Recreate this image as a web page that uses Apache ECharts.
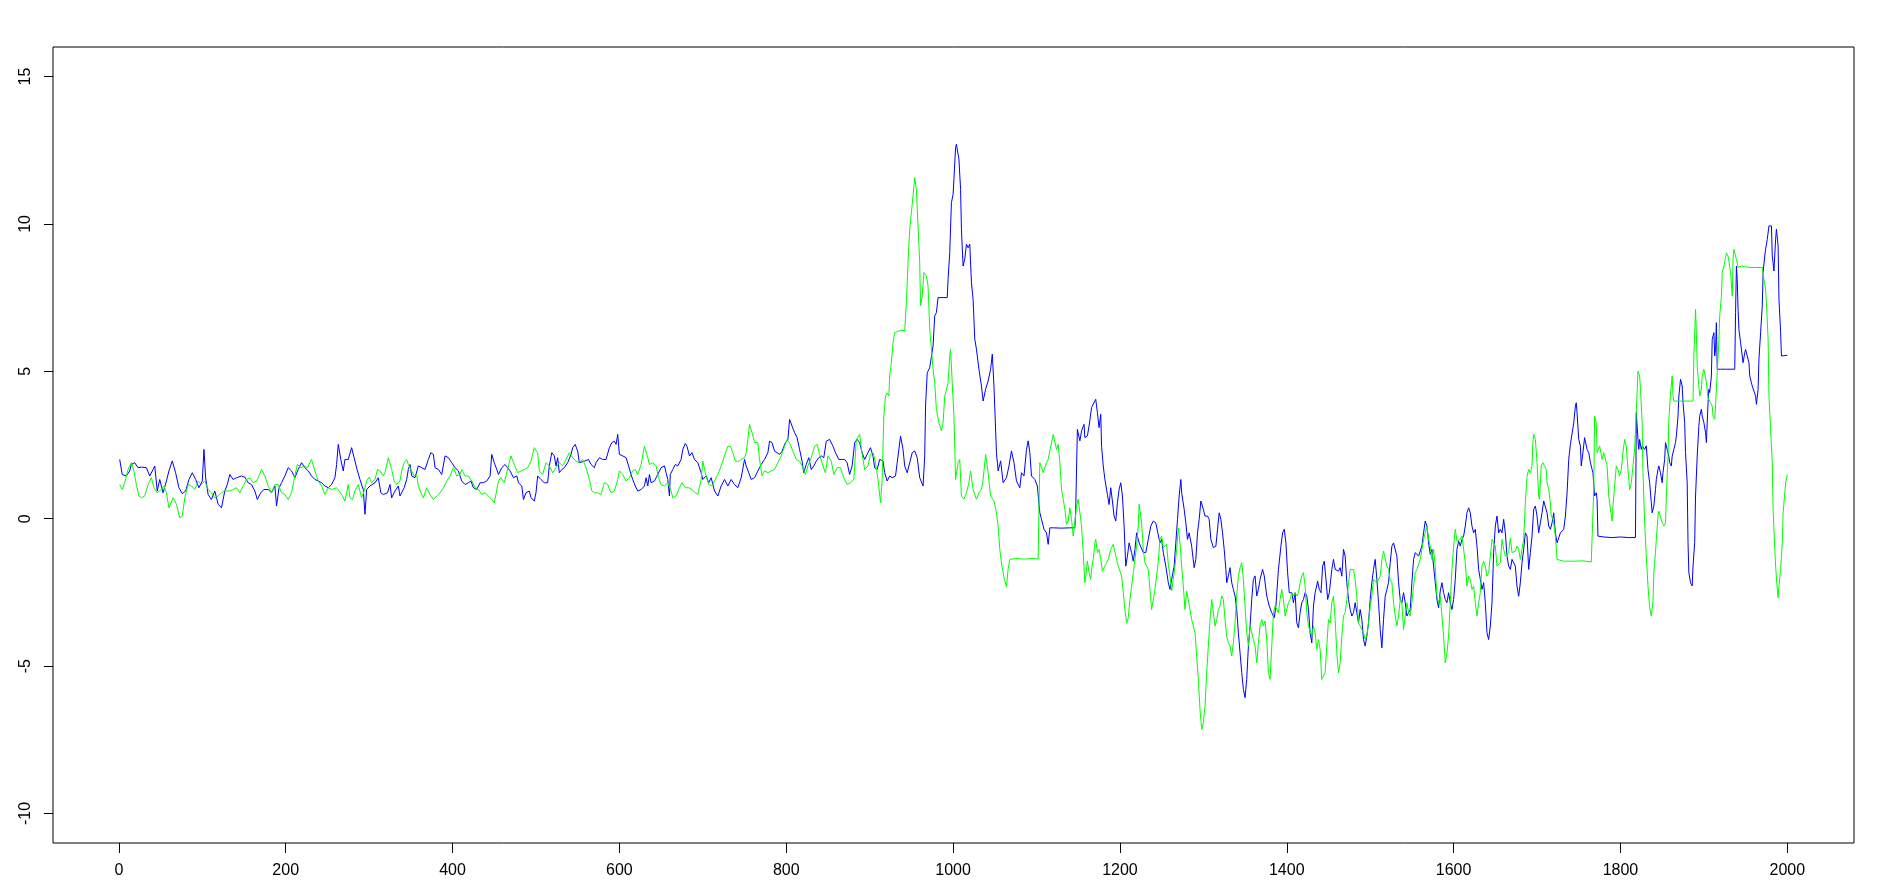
<!DOCTYPE html>
<html>
<head>
<meta charset="utf-8">
<script src="https://cdn.jsdelivr.net/npm/echarts@6/dist/echarts.min.js"></script>
<style>html,body{margin:0;padding:0;background:#fff}#c{width:1880px;height:889px}</style>
</head>
<body>
<div id="c"></div>
<script>
const xTicks = [0, 200, 400, 600, 800, 1000, 1200, 1400, 1600, 1800, 2000];
const yTicks = [-10, -5, 0, 5, 10, 15];
const xRange = [-78.96, 2079.96];
const yRange = [-11, 16];

const blueData = [[1,2.01],[4,1.50],[9,1.45],[13,1.62],[15,1.84],[19,1.90],[23,1.73],[27,1.75],[33,1.73],[37,1.45],[41,1.67],[43,1.79],[46,0.94],[49,1.33],[53,0.88],[57,1.28],[60,1.62],[64,1.96],[68,1.56],[72,1.05],[76,0.85],[80,0.94],[84,1.33],[88,1.56],[92,1.33],[96,1.05],[100,1.28],[102,2.35],[104,1.39],[107,0.82],[111,0.65],[115,0.94],[119,0.49],[123,0.37],[127,0.94],[130,1.16],[133,1.50],[137,1.33],[141,1.39],[147,1.45],[151,1.41],[155,1.22],[159,1.16],[163,0.94],[166,0.65],[170,0.88],[174,0.99],[179,0.99],[183,0.88],[187,1.11],[189,0.43],[192,1.05],[195,1.22],[199,1.45],[203,1.73],[207,1.62],[211,1.39],[215,1.67],[219,1.90],[223,1.73],[227,1.62],[231,1.45],[235,1.33],[239,1.28],[243,1.22],[247,1.11],[251,1.05],[255,1.16],[259,1.39],[261,1.84],[263,2.52],[266,2.01],[269,1.62],[271,2.01],[275,2.01],[279,2.41],[282,2.07],[286,1.62],[289,1.33],[293,0.99],[295,0.15],[297,0.99],[301,1.11],
[307,1.22],[311,1.39],[314,0.88],[317,0.82],[319,0.77],[322,0.88],[325,1.16],[327,0.71],[329,0.65],[331,0.94],[335,1.11],[337,0.77],[339,0.82],[342,1.05],[345,1.33],[347,1.67],[349,1.84],[351,1.45],[355,1.39],[359,1.79],[363,1.73],[367,1.67],[371,2.01],[374,2.24],[377,2.18],[379,1.73],[383,1.67],[387,1.50],[391,2.13],[395,2.07],[399,1.90],[403,1.73],[407,1.62],[411,1.28],[415,1.16],[419,1.22],[422,1.28],[425,1.05],[429,0.99],[433,1.22],[437,1.22],[441,1.28],[445,1.45],[447,2.18],[450,1.90],[453,1.67],[455,1.50],[459,1.73],[463,1.84],[466,1.73],[469,1.62],[473,1.39],[477,1.45],[479,1.22],[483,1.11],[485,0.65],[488,0.88],[492,0.94],[494,0.71],[498,0.60],[500,0.88],[502,1.45],[506,1.33],[510,1.22],[514,1.22],[516,1.79],[519,2.24],[522,2.13],[524,1.79],[526,2.07],[528,1.56],[531,1.67],[534,1.73],[538,1.90],[542,2.18],[544,2.41],[547,2.52],[550,2.29],[552,1.90],[554,1.84],[558,1.95],[560,1.95],[563,2.01],[566,1.84],[570,1.73],[572,1.90],[576,2.07],[580,2.01],[584,2.01],[588,2.41],[591,2.58],[594,2.63],[596,2.52],[598,2.86],[600,2.18],
[604,2.13],[608,2.07],[611,1.79],[614,1.50],[616,1.33],[619,1.11],[622,0.94],[626,0.99],[630,1.11],[632,1.39],[634,1.11],[636,1.50],[638,1.22],[642,1.28],[646,1.50],[650,1.73],[654,1.79],[656,1.56],[658,1.33],[660,0.77],[661,1.50],[664,1.67],[667,1.84],[670,1.79],[674,2.01],[676,2.35],[679,2.55],[681,2.46],[684,2.13],[687,2.24],[690,2.01],[694,1.90],[698,1.56],[700,1.33],[704,1.45],[707,1.22],[710,1.39],[714,0.94],[718,0.77],[722,1.11],[726,1.33],[730,1.11],[734,1.33],[738,1.16],[742,1.05],[746,1.39],[750,2.01],[752,1.79],[755,1.56],[758,1.33],[762,1.39],[766,1.62],[770,1.84],[772,1.79],[774,2.01],[778,2.24],[780,2.63],[783,2.58],[786,2.29],[789,2.24],[792,2.18],[795,2.29],[799,2.58],[802,2.69],[804,3.37],[807,3.14],[810,2.92],[813,2.75],[816,2.35],[819,1.95],[821,1.56],[824,1.84],[827,2.07],[830,1.67],[833,1.79],[836,1.95],[839,2.07],[842,2.13],[845,2.07],[848,2.63],[852,2.69],[856,2.46],[859,2.24],[863,2.01],[866,2.01],[870,2.01],[873,1.90],[876,1.50],[879,1.79],[882,2.58],[885,2.69],[888,2.58],[891,2.24],[894,2.01],
[898,2.24],[901,2.41],[904,2.13],[906,1.73],[909,1.67],[912,2.01],[916,1.96],[918,1.56],[921,1.28],[924,1.45],[927,1.39],[931,1.45],[933,1.90],[937,2.80],[940,2.35],[942,1.79],[945,1.56],[948,1.90],[951,2.24],[954,2.30],[957,2.07],[960,1.39],[964,1.11],[966,2.13],[967,3.82],[969,4.95],[972,5.12],[974,5.07],[976,5.86],[978,6.88],[980,6.99],[982,7.50],[988,7.50],[993,7.50],[994,8.12],[996,9.03],[998,10.72],[1000,11.00],[1001,11.51],[1003,12.59],[1004,12.70],[1007,12.19],[1009,11.17],[1010,9.82],[1012,8.57],[1014,8.80],[1016,9.31],[1018,9.19],[1020,9.31],[1022,8.01],[1024,7.44],[1026,6.09],[1028,5.75],[1031,5.07],[1034,4.50],[1036,3.99],[1039,4.39],[1042,4.67],[1045,5.07],[1047,5.58],[1049,4.50],[1052,2.24],[1054,1.62],[1057,1.96],[1060,1.22],[1064,1.39],[1067,1.79],[1070,2.30],[1073,1.90],[1076,1.28],[1080,1.05],[1082,1.56],[1085,1.45],[1088,2.35],[1090,2.64],[1092,2.24],[1094,1.45],[1098,1.33],[1101,1.11],[1104,0.20],[1106,-0.02],[1109,-0.36],[1112,-0.48],[1114,-0.87],[1116,-0.31],[1120,-0.31],[1130,-0.32],[1140,-0.31],[1146,-0.31],[1147,0.32],[1149,3.03],[1152,2.64],[1154,2.98],[1157,3.20],
[1158,2.75],[1161,2.81],[1163,3.14],[1166,3.77],[1168,3.82],[1171,4.05],[1173,3.60],[1175,3.09],[1177,3.54],[1178,2.46],[1180,1.79],[1182,1.33],[1185,0.82],[1187,0.48],[1189,1.05],[1191,0.60],[1193,0.09],[1195,-0.08],[1197,0.54],[1199,0.99],[1201,1.22],[1203,0.77],[1205,-0.25],[1207,-1.61],[1209,-1.27],[1211,-0.82],[1214,-1.15],[1216,-1.44],[1218,-1.04],[1220,-0.48],[1223,-0.82],[1225,-0.82],[1228,-1.15],[1231,-1.15],[1234,-0.70],[1237,-0.25],[1240,-0.08],[1243,-0.14],[1245,-0.42],[1248,-0.82],[1250,-0.70],[1252,-1.15],[1255,-1.61],[1258,-2.17],[1260,-2.40],[1262,-2.06],[1265,-1.61],[1267,-0.82],[1269,-0.02],[1271,0.77],[1273,1.33],[1274,0.88],[1277,0.32],[1279,-0.14],[1281,-0.70],[1283,-0.48],[1286,-0.93],[1289,-1.66],[1291,-1.38],[1293,-0.48],[1295,-0.02],[1297,0.60],[1300,0.32],[1302,0.09],[1305,0.09],[1307,-0.02],[1309,-0.70],[1312,-0.98],[1315,-0.93],[1317,-0.36],[1319,0.20],[1321,-0.02],[1323,-0.48],[1325,-1.04],[1327,-1.72],[1328,-2.17],[1330,-1.94],[1332,-1.66],[1334,-2.17],[1336,-2.40],[1338,-2.62],[1340,-3.08],[1342,-3.87],[1344,-4.55],[1346,-5.22],[1348,-5.79],[1350,-6.07],[1352,-5.45],[1354,-4.32],[1356,-3.64],[1358,-2.74],[1360,-2.06],[1362,-1.94],[1364,-2.62],[1366,-2.40],[1368,-2.06],[1371,-1.72],[1373,-1.94],[1376,-2.62],[1379,-2.96],[1382,-3.19],[1385,-3.36],[1387,-2.96],[1390,-1.72],[1393,-0.93],[1395,-0.48],[1397,-0.36],[1399,-0.82],[1401,-1.83],[1403,-2.51],[1406,-2.51],[1408,-2.85],[1410,-2.51],[1412,-3.53],[1414,-3.70],[1416,-3.19],[1418,-2.85],[1420,-2.74],[1422,-2.51],[1424,-2.62],[1426,-3.08],[1428,-3.87],[1430,-4.21],[1432,-2.96],[1434,-2.51],[1437,-2.12],[1439,-2.40],[1441,-2.51],[1443,-1.61],[1445,-1.44],[1447,-2.06],[1449,-2.74],[1451,-2.51],
[1454,-1.72],[1456,-1.38],[1458,-1.72],[1460,-1.66],[1462,-1.78],[1464,-1.66],[1466,-1.95],[1468,-1.04],[1470,-1.27],[1472,-2.17],[1474,-2.74],[1476,-3.08],[1478,-3.30],[1480,-3.19],[1482,-2.85],[1484,-3.19],[1486,-3.53],[1488,-3.08],[1490,-3.42],[1492,-4.10],[1494,-4.32],[1496,-3.98],[1498,-3.53],[1500,-2.74],[1502,-2.17],[1504,-1.72],[1506,-1.38],[1508,-2.06],[1510,-2.85],[1512,-3.76],[1514,-4.38],[1516,-3.42],[1518,-2.63],[1520,-2.40],[1522,-2.17],[1524,-1.49],[1526,-0.93],[1528,-0.82],[1530,-0.82],[1532,-1.27],[1534,-2.17],[1536,-2.74],[1538,-2.85],[1540,-2.51],[1542,-2.85],[1544,-3.30],[1546,-3.36],[1548,-3.08],[1550,-2.17],[1552,-1.38],[1554,-1.15],[1556,-1.10],[1558,-1.27],[1560,-1.32],[1562,-0.93],[1564,-0.48],[1566,-0.08],[1568,-0.25],[1570,-0.82],[1572,-1.21],[1574,-1.04],[1576,-1.61],[1578,-2.17],[1580,-2.74],[1582,-3.02],[1584,-2.45],[1586,-2.17],[1588,-2.51],[1590,-2.74],[1592,-2.85],[1594,-2.51],[1596,-2.85],[1598,-3.08],[1600,-2.74],[1602,-2.06],[1604,-1.04],[1606,-0.76],[1608,-0.93],[1610,-0.70],[1612,-0.59],[1614,-0.25],[1616,0.20],[1618,0.37],[1620,0.20],[1622,-0.25],[1624,-0.48],[1626,-0.36],[1628,-0.93],[1630,-1.72],[1632,-2.06],[1634,-2.40],[1636,-2.17],[1638,-2.85],[1640,-3.87],[1642,-4.10],[1644,-3.64],[1646,-2.85],[1648,-1.15],[1650,-0.25],[1652,0.09],[1654,-0.48],[1656,-0.36],[1658,-0.48],[1660,-0.02],[1662,-0.48],[1664,-1.27],[1666,-1.61],[1668,-1.72],[1670,-1.38],[1672,-1.44],[1674,-1.61],[1676,-2.29],[1678,-2.63],[1680,-2.17],[1682,-1.49],[1684,-1.04],[1686,-0.48],[1688,-0.59],[1690,-1.72],[1692,-1.15],[1694,-0.59],[1696,0.32],[1698,0.43],[1700,0.09],[1702,-0.48],[1704,-0.14],[1706,0.20],[1708,0.60],[1710,0.54],[1712,0.20],[1714,-0.25],[1716,-0.36],[1718,-0.14],[1720,0.20],[1722,-0.48],[1724,-0.82],[1726,-0.65],[1728,-0.48],[1730,-0.42],[1732,-0.36],[1734,0.09],[1736,0.88],[1738,2.01],[1740,2.52],[1742,2.58],[1744,3.26],[1746,3.82],[1747,3.93],[1748,3.59],[1750,2.69],[1752,2.46],[1753,1.79],[1755,2.24],[1757,2.75],
[1760,2.35],[1762,2.24],[1764,1.90],[1766,1.67],[1767,1.56],[1769,0.77],[1771,0.88],[1772,0.65],[1773,-0.59],[1775,-0.64],[1780,-0.62],[1790,-0.64],[1800,-0.62],[1810,-0.64],[1818,-0.64],[1819,3.60],[1821,2.69],[1822,2.35],[1823,2.69],[1825,2.35],[1826,2.47],[1828,2.47],[1829,2.35],[1831,2.47],[1832,2.47],[1833,1.67],[1835,1.22],[1837,0.54],[1838,0.20],[1840,0.43],[1842,0.99],[1843,1.33],[1845,1.67],[1846,1.79],[1848,1.56],[1850,1.22],[1851,1.56],[1853,2.01],[1854,2.58],[1856,2.35],[1858,2.12],[1859,1.90],[1861,1.79],[1862,2.12],[1864,2.35],[1866,2.58],[1867,2.80],[1869,3.48],[1870,4.16],[1872,4.73],[1874,4.50],[1875,3.93],[1877,3.26],[1878,2.24],[1880,1.22],[1881,-0.81],[1882,-1.83],[1884,-2.17],[1886,-2.28],[1887,-1.61],[1889,-0.81],[1890,0.77],[1892,2.12],[1894,3.14],[1895,3.48],[1897,3.71],[1898,3.48],[1900,3.26],[1902,2.92],[1903,2.58],[1905,3.93],[1906,4.39],[1907,4.28],[1909,4.84],[1910,6.08],[1912,6.31],[1913,5.52],[1914,5.74],[1915,6.65],[1916,5.07],[1920,5.07],[1927,5.07],[1937,5.07],[1938,6.99],[1939,8.57],[1940,8.12],[1941,7.10],[1942,6.42],[1944,5.97],[1946,5.52],[1947,5.29],[1949,5.63],[1950,5.74],[1952,5.52],[1954,5.29],[1955,4.84],[1957,4.61],[1958,4.50],[1960,4.33],[1962,4.16],[1963,3.88],[1965,4.39],[1966,5.41],[1968,6.31],[1970,7.21],[1971,8.35],[1973,8.91],[1974,9.14],[1976,9.48],[1978,9.93],[1979,9.95],[1981,9.93],[1982,8.91],[1984,8.40],[1986,9.48],[1987,9.82],[1989,9.25],[1990,7.44],[1992,6.31],[1993,5.52],[1995,5.52],[2000,5.54]];

const greenData = [[1,1.16],[4,0.99],[7,1.22],[11,1.67],[15,1.90],[18,1.62],[21,1.16],[24,0.77],[27,0.71],[31,0.77],[35,1.16],[39,1.39],[42,1.05],[46,0.88],[51,0.99],[54,1.11],[57,0.88],[60,0.37],[65,0.71],[69,0.49],[73,0.03],[76,0.09],[79,0.71],[83,1.16],[87,1.11],[91,0.99],[95,1.28],[99,1.16],[103,1.28],[107,0.99],[111,0.88],[115,0.71],[119,0.77],[123,0.88],[127,0.94],[133,0.94],[137,0.99],[141,1.05],[145,0.88],[149,1.11],[153,1.33],[157,1.39],[161,1.22],[165,1.28],[168,1.45],[171,1.67],[175,1.45],[179,1.11],[183,0.88],[187,1.16],[191,1.16],[195,0.88],[199,0.82],[203,0.65],[207,0.88],[211,1.45],[214,1.84],[218,1.73],[222,1.79],[226,1.73],[231,2.01],[235,1.62],[239,1.28],[243,1.11],[247,0.82],[251,1.05],[255,0.99],[261,1.05],[267,0.82],[271,0.60],[275,1.16],[277,0.71],[280,0.65],[283,0.94],[287,1.16],[291,0.71],[294,0.94],[297,1.28],[300,1.41],
[303,1.22],[307,1.33],[310,1.67],[313,1.62],[317,1.45],[319,1.56],[323,2.07],[325,2.13],[327,1.67],[330,1.28],[333,1.16],[337,1.28],[339,1.62],[342,1.90],[345,2.01],[347,1.84],[351,1.62],[354,1.45],[357,1.50],[359,1.11],[362,0.88],[365,0.71],[369,1.05],[373,0.82],[377,0.65],[381,0.77],[385,0.88],[389,1.05],[393,1.28],[397,1.45],[401,1.73],[405,1.45],[409,1.50],[411,1.67],[415,1.45],[419,1.45],[423,1.28],[427,1.05],[431,0.99],[435,0.82],[439,0.88],[443,0.77],[447,0.65],[450,0.54],[452,0.82],[455,1.28],[458,1.39],[462,1.22],[467,1.79],[470,2.13],[474,1.84],[478,1.56],[482,1.62],[486,1.67],[490,1.73],[494,1.95],[498,2.41],[502,2.24],[504,1.62],[508,1.50],[512,1.90],[516,1.79],[520,1.56],[524,1.73],[528,1.90],[532,1.79],[536,2.01],[540,2.24],[544,2.07],[548,1.95],[552,1.90],[556,2.01],[560,1.73],[564,1.33],[567,0.94],[570,0.88],[574,0.88],[578,0.82],[582,1.22],[586,1.16],[590,0.88],[594,0.94],[598,1.33],
[600,1.62],[604,1.50],[608,1.28],[612,1.39],[616,1.62],[619,1.67],[622,1.50],[626,1.84],[630,2.46],[634,2.07],[636,1.84],[640,1.90],[644,1.79],[647,1.39],[650,1.16],[654,1.11],[658,1.22],[662,0.94],[664,0.71],[668,0.77],[672,1.05],[675,1.22],[679,1.05],[683,1.05],[687,0.99],[691,0.88],[694,0.82],[698,1.33],[700,1.95],[703,1.56],[707,1.16],[711,1.11],[714,1.28],[718,1.50],[722,1.79],[726,2.13],[730,2.46],[733,2.46],[736,2.24],[739,1.95],[743,1.95],[746,2.01],[750,2.07],[752,2.24],[754,2.69],[756,3.20],[759,2.92],[762,2.58],[766,2.58],[768,2.01],[771,1.45],[774,1.62],[778,1.56],[782,1.62],[786,1.67],[790,1.90],[794,2.13],[798,2.46],[801,2.69],[804,2.58],[808,2.29],[812,2.01],[816,1.95],[820,1.73],[823,1.50],[826,1.79],[830,2.07],[834,2.46],[837,2.52],[840,2.18],[844,1.79],[847,1.56],[850,2.13],[854,1.95],[857,1.50],[861,1.73],[865,1.73],[869,1.39],[873,1.16],[877,1.22],[881,1.33],[884,2.69],[888,2.86],[891,2.18],[894,1.67],
[898,1.79],[901,2.18],[904,2.24],[907,1.90],[910,1.33],[913,0.54],[915,1.33],[917,3.48],[919,4.16],[921,4.27],[923,4.16],[924,4.84],[926,5.29],[928,5.97],[930,6.31],[932,6.37],[937,6.39],[942,6.37],[944,7.33],[946,8.69],[948,9.82],[950,10.38],[952,10.95],[954,11.57],[956,11.17],[958,9.93],[960,8.69],[961,7.22],[963,7.56],[965,8.35],[968,8.24],[970,7.90],[972,6.42],[974,5.75],[976,5.07],[978,4.61],[980,3.71],[983,3.26],[986,2.98],[988,3.26],[990,4.16],[992,4.16],[994,4.61],[996,5.52],[997,5.75],[999,4.61],[1001,3.48],[1002,2.47],[1003,1.33],[1004,1.28],[1006,1.90],[1008,2.01],[1010,0.77],[1013,0.66],[1016,0.88],[1019,1.22],[1021,1.62],[1024,0.99],[1028,0.66],[1031,0.88],[1034,0.99],[1036,1.33],[1039,2.18],[1042,1.56],[1045,0.77],[1049,0.60],[1052,0.20],[1054,-0.25],[1056,-1.04],[1058,-1.50],[1061,-2.00],[1064,-2.31],[1066,-1.70],[1068,-1.38],[1075,-1.35],[1085,-1.37],[1095,-1.35],[1102,-1.36],[1103,0.50],[1104,1.90],[1106,1.85],[1108,1.56],[1110,1.50],[1112,1.90],[1114,2.01],[1116,2.30],[1118,2.24],[1120,2.86],[1122,2.92],[1124,2.35],[1126,2.52],[1128,1.90],[1130,0.99],[1132,0.66],[1134,0.32],[1136,-0.19],[1138,-0.08],[1140,0.37],[1142,-0.02],[1144,-0.59],[1146,-0.14],[1148,0.43],[1150,0.66],[1152,0.66],
[1154,-0.25],[1156,-1.15],[1158,-2.17],[1159,-1.95],[1161,-1.44],[1163,-1.83],[1165,-2.06],[1166,-1.72],[1168,-1.38],[1170,-0.82],[1171,-0.70],[1173,-1.15],[1175,-1.04],[1177,-1.38],[1179,-1.78],[1181,-1.72],[1183,-1.55],[1186,-1.38],[1189,-1.04],[1192,-0.87],[1194,-0.93],[1196,-1.38],[1198,-1.61],[1200,-1.55],[1202,-1.94],[1204,-2.51],[1206,-3.08],[1208,-3.53],[1210,-3.36],[1212,-2.74],[1214,-2.29],[1216,-1.83],[1218,-1.38],[1220,-0.93],[1222,-0.25],[1223,0.49],[1225,0.43],[1226,-0.14],[1228,-1.04],[1230,-1.49],[1232,-1.55],[1234,-1.72],[1236,-2.40],[1238,-3.08],[1240,-2.74],[1242,-2.40],[1244,-1.94],[1246,-1.44],[1248,-0.70],[1250,-0.59],[1252,-0.98],[1254,-0.93],[1256,-0.87],[1258,-1.55],[1260,-1.94],[1262,-2.45],[1264,-2.06],[1266,-1.61],[1268,-1.04],[1270,-0.31],[1272,-0.82],[1274,-1.61],[1276,-2.29],[1278,-3.08],[1280,-2.45],[1282,-2.45],[1284,-3.08],[1286,-3.42],[1288,-3.64],[1290,-3.87],[1292,-4.66],[1294,-5.45],[1296,-6.47],[1298,-7.15],[1300,-6.92],[1302,-6.36],[1304,-5.22],[1306,-4.32],[1308,-3.42],[1310,-2.74],[1312,-3.19],[1314,-3.64],[1316,-3.42],[1318,-3.08],[1320,-2.96],[1322,-2.62],[1324,-2.74],[1326,-3.42],[1328,-3.98],[1330,-4.21],[1332,-4.32],[1334,-4.66],[1336,-4.21],[1338,-3.53],[1340,-2.62],[1342,-1.94],[1344,-1.66],[1346,-1.49],[1348,-2.06],[1350,-2.96],[1352,-3.87],[1354,-4.32],[1356,-3.64],[1358,-3.70],[1360,-4.10],[1362,-4.32],[1364,-4.89],[1366,-4.21],[1368,-3.64],[1370,-3.42],[1372,-3.64],[1374,-3.47],[1376,-4.10],[1378,-5.22],[1380,-5.45],[1382,-4.32],[1384,-3.19],[1386,-2.96],[1388,-3.08],[1390,-3.19],[1392,-2.74],[1394,-2.40],[1396,-2.74],[1398,-3.30],[1400,-3.08],[1402,-2.85],[1404,-2.74],[1406,-2.51],[1408,-2.62],[1410,-2.51],[1412,-2.62],[1414,-2.51],[1416,-2.17],[1418,-1.94],[1420,-1.83],[1422,-2.29],[1424,-3.19],[1426,-3.64],[1428,-3.64],[1430,-3.98],[1432,-3.64],[1434,-3.87],[1436,-4.43],[1438,-4.10],[1440,-4.43],[1442,-5.45],[1444,-5.34],[1446,-5.22],[1448,-4.32],[1450,-3.42],
[1452,-3.53],[1454,-2.85],[1456,-2.63],[1458,-3.42],[1460,-4.55],[1462,-5.23],[1464,-4.89],[1466,-3.98],[1468,-3.30],[1470,-3.19],[1472,-2.74],[1474,-2.17],[1476,-1.72],[1478,-1.69],[1480,-1.72],[1482,-2.06],[1484,-2.63],[1486,-3.53],[1488,-3.64],[1490,-3.76],[1492,-3.87],[1494,-4.10],[1496,-3.98],[1498,-3.53],[1500,-2.97],[1502,-2.63],[1504,-2.06],[1506,-2.06],[1508,-2.17],[1510,-2.17],[1512,-1.95],[1514,-1.38],[1516,-1.10],[1518,-1.15],[1520,-1.61],[1522,-1.72],[1524,-2.06],[1526,-2.17],[1528,-2.85],[1530,-3.30],[1532,-3.64],[1534,-3.30],[1536,-2.74],[1538,-2.85],[1540,-3.76],[1542,-3.30],[1544,-2.85],[1546,-3.19],[1548,-3.30],[1550,-2.85],[1552,-2.29],[1554,-1.83],[1556,-1.72],[1558,-1.72],[1560,-1.38],[1562,-1.04],[1564,-0.70],[1566,-0.48],[1568,-0.25],[1570,-0.70],[1572,-0.93],[1574,-1.38],[1576,-1.04],[1578,-1.61],[1580,-2.63],[1582,-2.85],[1584,-2.63],[1586,-3.30],[1588,-3.98],[1590,-4.89],[1592,-4.55],[1594,-3.98],[1596,-2.85],[1598,-1.72],[1600,-0.93],[1602,-0.36],[1604,-0.76],[1606,-0.82],[1608,-0.70],[1610,-0.59],[1612,-1.04],[1614,-1.49],[1616,-2.29],[1618,-1.95],[1620,-2.06],[1622,-2.40],[1624,-2.29],[1626,-2.85],[1628,-3.30],[1630,-2.85],[1632,-2.51],[1634,-1.61],[1636,-1.44],[1638,-1.61],[1640,-1.95],[1642,-1.83],[1644,-1.27],[1646,-0.70],[1648,-0.82],[1650,-0.93],[1652,-1.61],[1654,-1.66],[1656,-1.49],[1658,-0.70],[1660,-1.04],[1662,-1.27],[1664,-1.27],[1666,-1.15],[1668,-0.65],[1670,-1.15],[1672,-1.21],[1674,-1.10],[1676,-0.93],[1678,-1.04],[1680,-1.38],[1682,-1.04],[1684,-0.70],[1686,0.54],[1688,1.44],[1690,1.67],[1692,1.56],[1694,1.79],[1695,2.58],[1696,2.86],[1698,2.69],[1700,1.90],[1702,0.77],[1703,0.66],[1705,1.79],[1707,1.90],[1709,1.79],[1711,1.67],[1712,1.22],[1714,1.00],[1716,0.54],[1717,0.09],[1719,-0.02],[1720,-0.14],[1722,-0.59],[1724,-1.38],[1725,-1.44],[1732,-1.44],[1744,-1.44],[1755,-1.43],[1765,-1.47],[1767,-1.44],[1768,0.99],[1769,3.48],[1771,3.26],[1772,2.24],[1775,2.47],[1776,2.41],[1778,2.01],[1780,2.24],[1782,2.30],[1784,1.79],[1786,0.77],[1788,0.32],[1790,-0.08],[1791,0.43],[1793,1.11],[1795,1.79],[1797,1.67],[1799,1.45],[1801,1.67],[1803,2.24],[1805,2.69],[1807,2.47],[1809,1.67],[1811,0.99],[1813,1.22],[1815,1.79],[1817,2.35],[1819,3.60],[1821,5.01],[1823,4.84],[1824,4.39],[1826,3.26],[1827,1.56],[1829,-0.14],[1831,-1.27],[1833,-2.28],[1835,-3.02],[1837,-3.30],[1839,-2.80],[1840,-1.83],[1842,-1.15],[1843,-0.70],[1845,0.09],[1846,0.26],[1848,0.32],[1850,-0.14],[1852,-0.25],[1854,-0.14],[1855,0.77],[1857,2.12],[1858,3.37],[1860,4.22],[1862,4.84],[1863,4.16],[1864,3.99],[1872,3.99],[1880,3.99],[1887,3.99],[1888,5.52],[1890,7.10],[1891,6.31],[1892,5.18],[1894,4.50],[1895,4.16],[1897,4.39],[1898,4.84],[1900,5.07],[1902,5.12],[1903,4.61],[1905,4.10],[1906,4.16],[1908,3.93],[1910,3.82],[1911,3.48],[1913,3.37],[1914,3.82],[1916,4.95],[1918,6.08],[1919,6.88],[1921,7.55],[1922,8.35],[1924,8.57],[1926,8.86],[1927,9.02],[1929,8.91],[1930,8.74],[1932,8.35],[1934,7.55],[1935,8.80],[1936,9.14],[1938,8.91],[1939,8.80],[1941,8.52],[1945,8.57],[1955,8.52],[1963,8.52],[1970,8.52],[1972,8.12],[1974,7.78],[1975,7.33],[1977,6.08],[1978,4.16],[1980,3.03],[1982,1.90],[1983,0.32],[1985,-1.04],[1986,-1.61],[1988,-2.40],[1989,-2.68],[1990,-2.28],[1992,-1.72],[1994,-0.81],[1995,0.20],[1997,0.88],[1998,1.22],[2000,1.50]];

const chart = echarts.init(document.getElementById('c'), null, {renderer: 'canvas'});
const font = "'Liberation Sans', Arial, sans-serif";
chart.setOption({
  animation: false,
  backgroundColor: '#ffffff',
  grid: {left: 53, right: 26, top: 47, bottom: 46, show: true, borderColor: '#000', borderWidth: 1, backgroundColor: 'transparent'},
  xAxis: {
    type: 'value', min: xRange[0], max: xRange[1],
    axisLine: {show: false, onZero: false},
    splitLine: {show: false},
    axisTick: {show: true, inside: false, length: 10, customValues: xTicks, lineStyle: {color: '#000', width: 1}},
    axisLabel: {show: true, customValues: xTicks, margin: 20, fontSize: 16, fontFamily: font, color: '#000', formatter: function (v) { return String(v); }}
  },
  yAxis: {
    type: 'value', min: yRange[0], max: yRange[1],
    axisLine: {show: false, onZero: false},
    splitLine: {show: false},
    axisTick: {show: true, inside: false, length: 9, customValues: yTicks, lineStyle: {color: '#000', width: 1}},
    axisLabel: {show: true, customValues: yTicks, rotate: 90, margin: 19, fontSize: 16, fontFamily: font, color: '#000', formatter: function (v) { return String(v); }}
  },
  series: [
    {type: 'line', data: blueData, showSymbol: false, symbol: 'none', lineStyle: {color: '#0000ff', width: 1}, silent: true},
    {type: 'line', data: greenData, showSymbol: false, symbol: 'none', lineStyle: {color: '#00ff00', width: 1}, silent: true}
  ]
});
</script>
</body>
</html>
